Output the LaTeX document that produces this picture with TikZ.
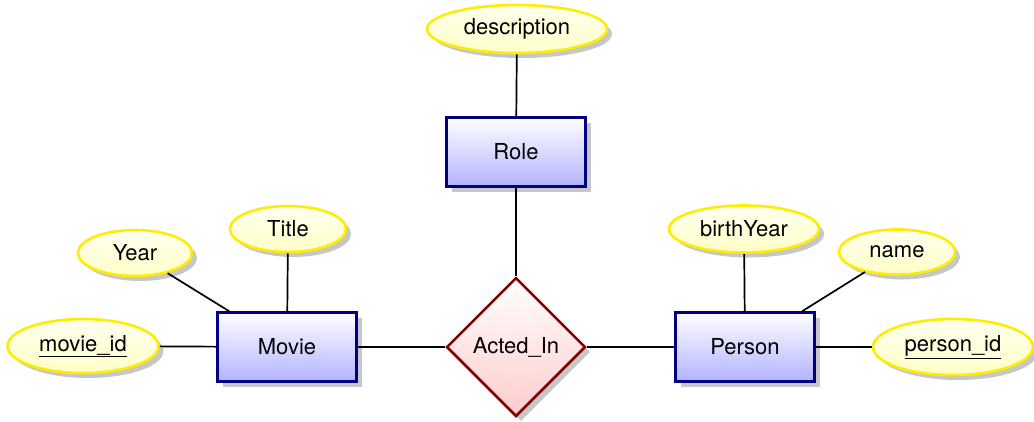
\documentclass[tikz,border=0pt]{standalone}
\usepackage{fontspec}
\setmainfont{TeX Gyre Heros}
\usetikzlibrary{shapes.geometric,shadows}
\begin{document}
\begin{tikzpicture}[x=1pt,y=-1pt,
  font=\fontsize{22}{26}\selectfont,
  shadowed/.style={drop shadow={shadow xshift=5pt,shadow yshift=-5pt,fill=black!22,opacity=1}},
  entity/.style={rectangle,draw=blue!50!black,line width=2.5pt,
    top color=white,bottom color=blue!30,minimum width=139pt,minimum height=69pt,
    inner sep=0pt,shadowed},
  attribute/.style={ellipse,draw=yellow!95!orange,line width=2.6pt,
    top color=yellow!6,bottom color=yellow!22,inner sep=0pt,shadowed},
  relationship/.style={diamond,draw=red!50!black,line width=2.5pt,
    top color=white,bottom color=red!20,minimum width=139pt,minimum height=139pt,
    inner sep=0pt,aspect=1,shadowed},
  link/.style={line width=1.7pt,black}]
\useasboundingbox (0,0) rectangle (1034,421);

% relationship and entities
\node[relationship] (acted) at (516,347) {Acted\_In};
\node[entity] (role)   at (516,152) {Role};
\node[entity] (movie)  at (287,347) {Movie};
\node[entity] (person) at (745,347) {Person};

% attributes
\node[attribute,minimum width=180pt,minimum height=48pt] (desc)  at (517,29)  {description};
\node[attribute,minimum width=151pt,minimum height=54pt] (mid)   at (83,346)  {\underline{movie\_id}};
\node[attribute,minimum width=114pt,minimum height=46pt] (year)  at (135,253) {Year};
\node[attribute,minimum width=116pt,minimum height=46pt] (title) at (288,229) {Title};
\node[attribute,minimum width=150pt,minimum height=47pt] (birth) at (744,229) {birthYear};
\node[attribute,minimum width=116pt,minimum height=45pt] (name)  at (897,252) {name};
\node[attribute,minimum width=160pt,minimum height=56pt] (pid)   at (953,347) {\underline{person\_id}};

% connectors
\draw[link] (desc) -- (role);
\draw[link] (role) -- (acted);
\draw[link] (movie) -- (acted);
\draw[link] (acted) -- (person);
\draw[link] (mid) -- (movie);
\draw[link] (year) -- (movie);
\draw[link] (title) -- (movie);
\draw[link] (birth) -- (person);
\draw[link] (name) -- (person);
\draw[link] (person) -- (pid);
\end{tikzpicture}
\end{document}
